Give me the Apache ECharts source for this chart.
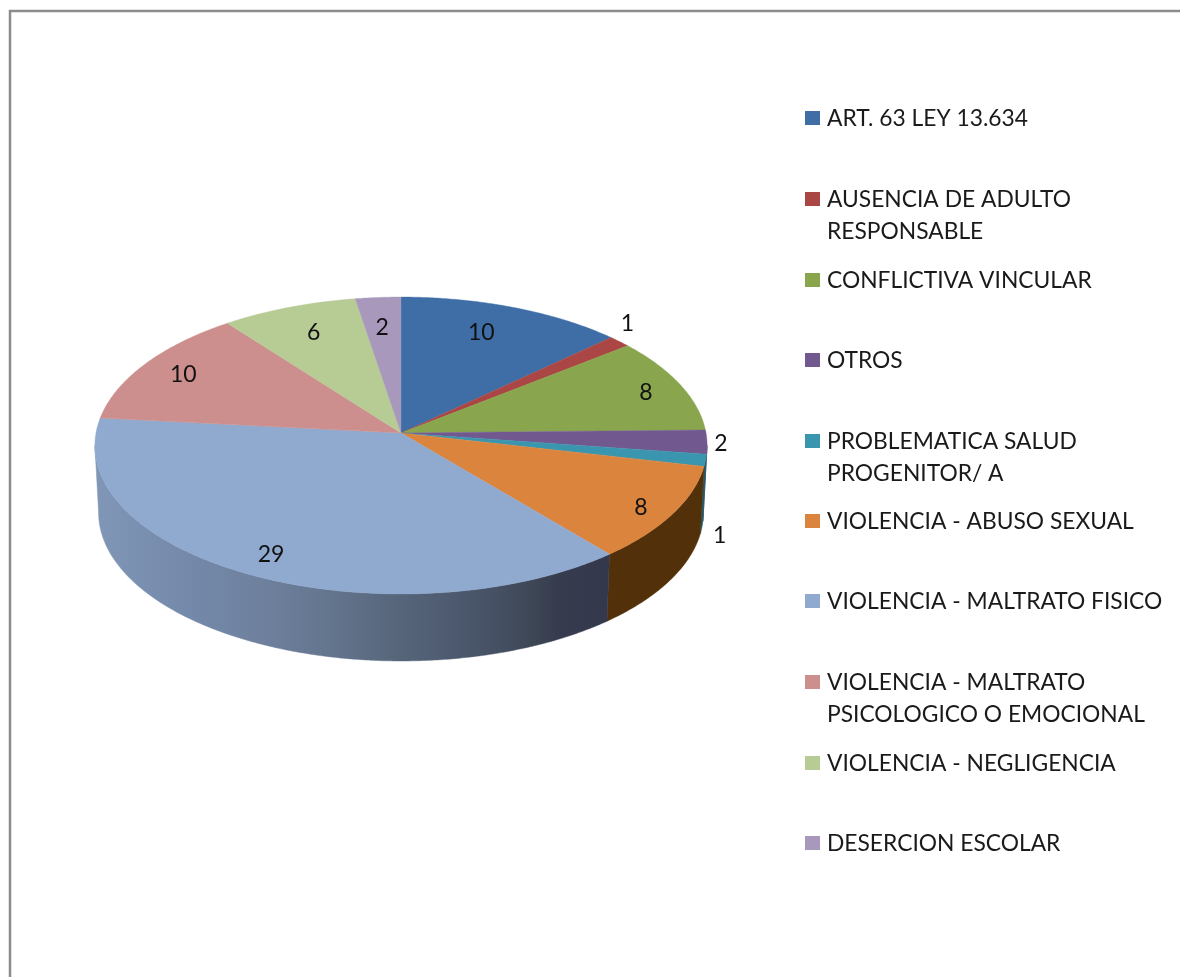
<!DOCTYPE html>
<html>
<head>
<meta charset="utf-8">
<style>html,body{margin:0;padding:0;background:#fff}#c{width:1180px;height:977px}</style>
<script src="https://cdn.jsdelivr.net/npm/echarts@6/dist/echarts.min.js"></script>
</head>
<body>
<div id="c"></div>
<script>
// ---- data ----
const categories = ['ART. 63 LEY 13.634','AUSENCIA DE ADULTO RESPONSABLE','CONFLICTIVA VINCULAR','OTROS','PROBLEMATICA SALUD PROGENITOR/ A','VIOLENCIA - ABUSO SEXUAL','VIOLENCIA - MALTRATO FISICO','VIOLENCIA - MALTRATO PSICOLOGICO O EMOCIONAL','VIOLENCIA - NEGLIGENCIA','DESERCION ESCOLAR'];
const legendLines = [['ART. 63 LEY 13.634'],['AUSENCIA DE ADULTO','RESPONSABLE'],['CONFLICTIVA VINCULAR'],['OTROS'],['PROBLEMATICA SALUD','PROGENITOR/ A'],['VIOLENCIA - ABUSO SEXUAL'],['VIOLENCIA - MALTRATO FISICO'],['VIOLENCIA - MALTRATO','PSICOLOGICO O EMOCIONAL'],['VIOLENCIA - NEGLIGENCIA'],['DESERCION ESCOLAR']];
const values = [10,1,8,2,1,8,29,10,6,2];

// ---- style ----
const colors = ['#3F6EA7','#AA4643','#89A54E','#71588F','#3A96AE','#DB843D','#8FA9CF','#CD8F8D','#B7CB95','#A899BC'];
const sideColors = ['#233e5e','#5f2725','#4d5c2c','#3f3150','#1d5a6b','#52300A',null,'#744f4f','#667153','#5e556a'];
const sideStops = [[0,'#8096b6'],[0.2,'#7388a8'],[0.34,'#6d7f9c'],[0.46,'#63748d'],[0.58,'#57667b'],[0.7,'#4d596e'],[0.78,'#455064'],[0.86,'#3c4553'],[0.9,'#363b4e'],[1,'#34384c']].map(s=>({offset:s[0],color:s[1]}));
const labelOffsets = [[-32,25],[8,-18],[-34,8],[14,2],[14,75],[-32,-6],[25,-19],[38,11],[25,25],[4,30]];

// ---- perspective pie geometry ----
const CX = 401, CY = 433, RX = 305, RY = 147.4, PERSP = 0.0842, DEPTH = 67, BOTTOM_SCALE = 0.988;
const VIS_FROM = 94.8, VIS_TO = 265.2;
const total = values.reduce((a,b)=>a+b,0);
const starts = []; { let c = 0; values.forEach(v=>{ starts.push(c/total*360); c += v; }); }

function project(deg, r) {
  const t = deg*Math.PI/180, u = Math.sin(t)*r, v = Math.cos(t)*r, d = 1 + PERSP*v;
  return [CX + RX*u/d, CY - RY*v/d];
}
function rim(a, b, step) {
  const pts = [], n = Math.max(2, Math.ceil(Math.abs(b-a)/step));
  for (let i=0;i<=n;i++) pts.push(project(a+(b-a)*i/n,1));
  return pts;
}

function renderSlice(i) {
  return function () {
    const a = starts[i], b = a + values[i]/total*360, children = [];
    const from = Math.max(a,VIS_FROM), to = Math.min(b,VIS_TO);
    if (to > from) {
      const top = rim(from,to,0.5);
      const bot = top.slice().reverse().map(p=>[CX+(p[0]-CX)*BOTTOM_SCALE, p[1]+DEPTH]);
      const fill = sideColors[i] || new echarts.graphic.LinearGradient(97,0,610,0,sideStops,true);
      children.push({type:'polygon',z2:1,shape:{points:top.concat(bot)},style:{fill:fill,stroke:fill,lineWidth:0.5}});
    }
    const face = [project(0,0)].concat(rim(a,b,0.5));
    children.push({type:'polygon',z2:2,shape:{points:face},style:{fill:colors[i],stroke:colors[i],lineWidth:0.4}});
    const m = project((a+b)/2,1);
    children.push({type:'text',z2:3,style:{x:m[0]+labelOffsets[i][0],y:m[1]+labelOffsets[i][1],text:String(values[i]),fill:'#111',font:'23px Lato',align:'center',verticalAlign:'middle'}});
    return {type:'group',children:children};
  };
}

const legendTops = [103,184,265,345,426,506,586,667,748,828];
const chart = echarts.init(document.getElementById('c'),null,{renderer:'canvas'});
chart.setOption({
  animation:false,
  backgroundColor:'#fff',
  graphic:[{type:'polyline',silent:true,shape:{points:[[10,977],[10,11],[1180,11]]},style:{stroke:'#8c8c8c',lineWidth:2.5,fill:'none'}}],
  legend:categories.map((c,i)=>{
    const two = legendLines[i].length>1, h = two?64:32;
    return {
      data:[{name:c,icon:'path://M0 0L0 0M17 '+h+'L17 '+h+'M0 8H15V22H0Z'}],
      left:805,top:legendTops[i],padding:0,itemWidth:17,itemHeight:h,selectedMode:false,
      formatter:()=>legendLines[i].join('\n'),
      textStyle:{fontFamily:'Lato',fontSize:22.8,lineHeight:32,color:'#1a1a1a'}
    };
  }),
  series:categories.map((c,i)=>({
    type:'custom',name:c,coordinateSystem:'none',silent:true,clip:false,
    itemStyle:{color:colors[i]},
    data:[values[i]],
    renderItem:renderSlice(i)
  }))
});
</script>
</body>
</html>
